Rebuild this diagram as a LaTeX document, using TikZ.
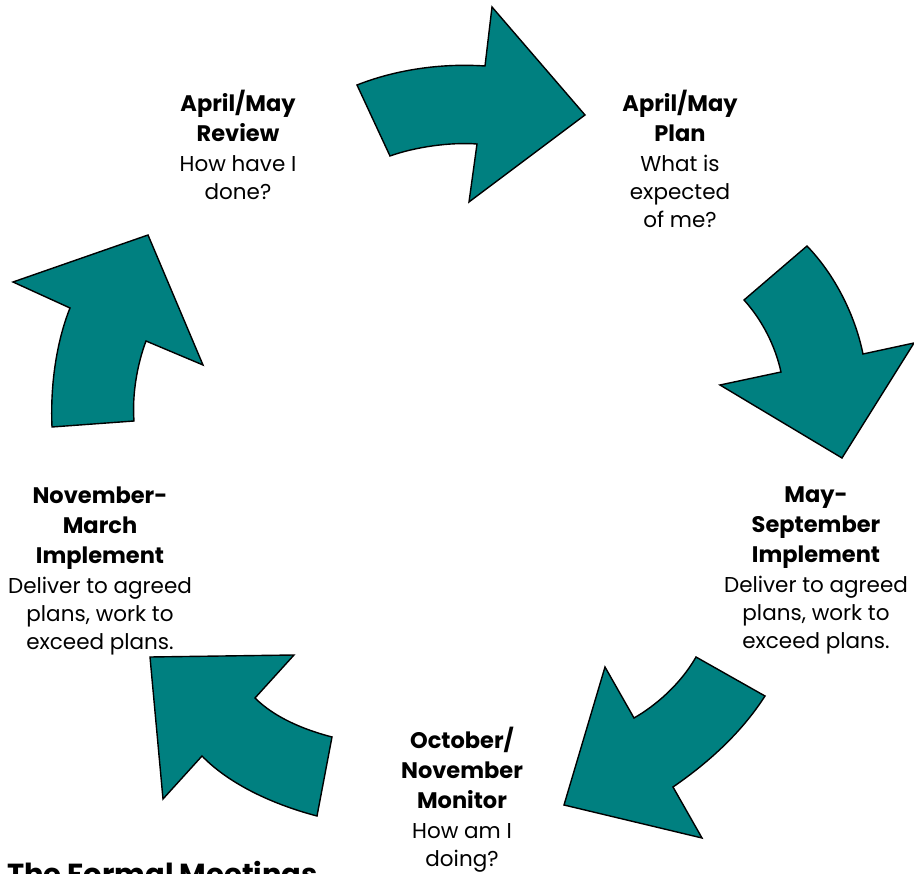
\documentclass[tikz,border=0pt]{standalone}
\usepackage{fontspec}
\setmainfont{Poppins}
\definecolor{teal1}{RGB}{0,128,128}
\newcommand{\hdl}[1]{{\fontsize{22.5}{28}\selectfont\bfseries #1}}
\begin{document}
\begin{tikzpicture}[x=1pt,y=-1pt,
  arrowshape/.style={fill=teal1,draw=black,line width=1.4pt,line join=miter},
  label/.style={align=center,inner sep=0pt,anchor=north,font=\fontsize{21.5}{28}\selectfont}]
\useasboundingbox (0,0) rectangle (914,874);
% top arrow
\draw[arrowshape] (357,85) -- (390,156) .. controls (415,147) and (450,142) .. (477,144)
  -- (469,202) -- (585,115) -- (492,7) -- (485,66)
  .. controls (440,63) and (395,70) .. cycle;
% right arrow
\draw[arrowshape] (807,246) -- (744,300) .. controls (762,320) and (775,345) .. (781,372)
  -- (720,385) -- (842,458) -- (914,343) -- (863,354)
  .. controls (855,315) and (835,275) .. cycle;
% bottom right arrow
\draw[arrowshape] (696,657) -- (765,696) .. controls (740,735) and (705,765) .. (673,787)
  -- (702,838) -- (564,805) -- (605,667) -- (634,718)
  .. controls (655,706) and (680,685) .. cycle;
% bottom left arrow
\draw[arrowshape] (294,655) -- (150,657) -- (163,799) -- (202,756)
  .. controls (230,785) and (275,805) .. (317,816) -- (332,737)
  .. controls (305,730) and (275,718) .. (255,698) -- cycle;
% left arrow
\draw[arrowshape] (52,427) -- (134,421) .. controls (132,395) and (137,365) .. (146,341)
  -- (203,365) -- (148,235) -- (13,282) -- (70,308)
  .. controls (58,338) and (50,380) .. cycle;
% labels
\node[label] (review) at (238,90) {\hdl{April/May}\\[2pt]\hdl{Review}\\[2pt]How have I\\done?};
\node[label] (plan) at (680,90) {\hdl{April/May}\\[2pt]\hdl{Plan}\\[2pt]What is\\expected\\of me?};
\node[label] (maysep) at (816,487) {\hdl{May-}\\[2pt]\hdl{September}\\[2pt]\hdl{Implement}\\[2pt]Deliver to agreed\\plans, work to\\exceed plans.};
\node[label] (octnov) at (462,727) {\hdl{October/}\\[2pt]\hdl{November}\\[2pt]\hdl{Monitor}\\[2pt]How am I\\doing?};
\node[label] (novmar) at (100,487) {\hdl{November-}\\[2pt]\hdl{March}\\[2pt]\hdl{Implement}\\[2pt]Deliver to agreed\\plans, work to\\exceed plans.};
\node[anchor=base west,inner sep=0pt,font=\fontsize{29}{34}\selectfont\bfseries] (title) at (7,884) {The Formal Meetings};
\end{tikzpicture}
\end{document}
